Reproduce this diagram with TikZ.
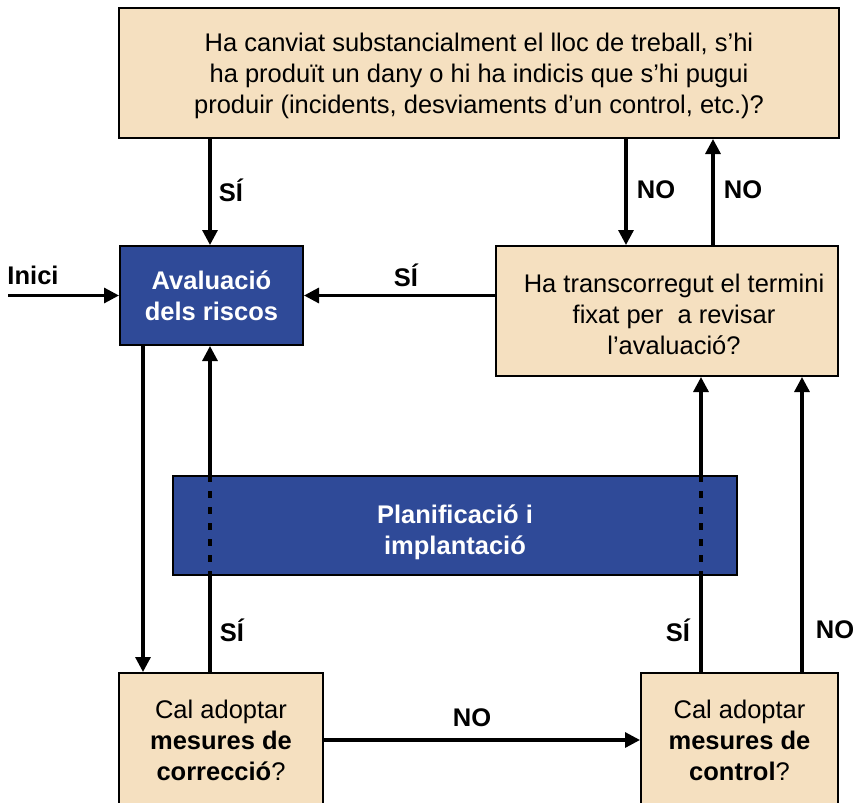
\documentclass[tikz,border=0pt]{standalone}
\usepackage{fontspec}
\setmainfont{Liberation Sans}
\usetikzlibrary{arrows.meta}
\definecolor{wheatbox}{RGB}{245,224,192}
\definecolor{bluebox}{RGB}{47,74,152}
\tikzset{
  box/.style={draw=black, line width=2pt, fill=wheatbox, rectangle, align=center, inner sep=0pt,
    font=\fontsize{25.5}{31}\selectfont},
  bbox/.style={box, fill=bluebox, text=white, font=\fontsize{25.5}{31}\selectfont\bfseries},
  txt/.style={align=center, inner sep=0pt, font=\fontsize{25.5}{31}\selectfont},
  wtxt/.style={txt, text=white, font=\fontsize{25.5}{31}\selectfont\bfseries},
  arr/.style={line width=3.2pt, -{Triangle[length=15pt,width=15pt]}},
  dline/.style={line width=3.2pt, dash pattern=on 7pt off 9pt},
  lbl/.style={font=\fontsize{25.5}{30}\selectfont\bfseries, inner sep=0pt}
}
\begin{document}
\begin{tikzpicture}[x=1pt,y=-1pt]
\useasboundingbox (0,0) rectangle (854,803);
\clip (0,0) rectangle (854,803);
\fill[white] (0,0) rectangle (854,803);
% coordinates for arrow x positions
\coordinate (xa) at (210,0);
\coordinate (xb) at (143,0);
\coordinate (xn1) at (626,0);
\coordinate (xn2) at (713,0);
\coordinate (xs) at (701,0);
\coordinate (xn3) at (802,0);
\coordinate (start) at (8,295.5);
% nodes
\node[box, minimum width=720, minimum height=130] (top) at (479,73) {};
\node[txt] (toptext) at (479,76)
  {Ha canviat substancialment el lloc de treball, s’hi\\ha produït un dany o hi ha indicis que s’hi pugui\\produir (incidents, desviaments d’un control, etc.)?};
\node[bbox, minimum width=183, minimum height=99] (aval) at (211.5,295.5) {Avaluació\\dels riscos};
\node[box, minimum width=342, minimum height=130] (ha) at (667,311) {};
\node[txt] (hatext) at (674,314)
  {Ha transcorregut el termini\\fixat per\ \ a revisar\\l’avaluació?};
\node[box, minimum width=204, minimum height=134] (bl) at (221,740)
  {Cal adoptar\\\textbf{mesures de}\\\textbf{correcció}?};
\node[box, minimum width=197, minimum height=134] (br) at (739.5,740)
  {Cal adoptar\\\textbf{mesures de}\\\textbf{control}?};
% arrows
\draw[arr] (top.south -| xa) -- (aval.north -| xa);
\draw[arr] (top.south -| xn1) -- (ha.north -| xn1);
\draw[arr] (ha.north -| xn2) -- (top.south -| xn2);
\draw[arr] (aval.east -| ha.west) -- (aval.east);
\draw[arr] (start) -- (aval.west);
\draw[arr] (aval.south -| xb) -- (bl.north -| xb);
\draw[arr] (bl.north -| xa) -- (aval.south -| xa);
\draw[arr] (bl.east) -- (br.west);
\draw[arr] (br.north -| xs) -- (ha.south -| xs);
\draw[arr] (br.north -| xn3) -- (ha.south -| xn3);
% planning box over the arrows
\node[bbox, minimum width=564, minimum height=99] (plan) at (455,525.5) {};
\node[wtxt] (plantext) at (455,532) {Planificació i\\implantació};
\draw[dline] (plan.north -| xa) -- (plan.south -| xa);
\draw[dline] (plan.north -| xs) -- (plan.south -| xs);
% labels
\node[lbl] (l1) at (231,190) {SÍ};
\node[lbl] (l2) at (656,190) {NO};
\node[lbl] (l3) at (743,190) {NO};
\node[lbl] (l4) at (406,275) {SÍ};
\node[lbl] (l5) at (33,275) {Inici};
\node[lbl] (l6) at (232,630) {SÍ};
\node[lbl] (l7) at (678,630) {SÍ};
\node[lbl] (l8) at (835,630) {NO};
\node[lbl] (l9) at (472,718) {NO};
\end{tikzpicture}
\end{document}
